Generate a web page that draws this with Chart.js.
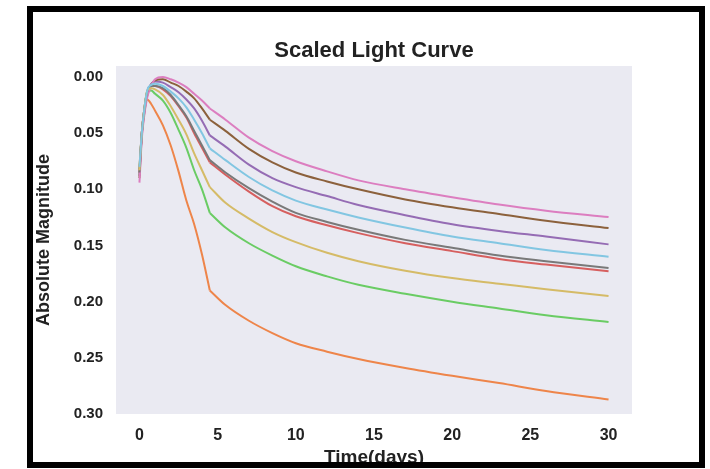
<!DOCTYPE html>
<html>
<head>
<meta charset="utf-8">
<script src="https://cdn.jsdelivr.net/npm/chart.js@4.4.1/dist/chart.umd.min.js"></script>
<style>
    html, body { margin: 0; padding: 0; background: #fff; }
    #wrap { position: relative; width: 710px; height: 469px; }
    #frame {
        position: absolute; left: 27px; top: 6px; width: 678px; height: 462px;
        box-sizing: border-box; border: 6px solid #000; pointer-events: none;
    }
</style>
</head>
<body>
<div id="wrap">
    <canvas id="lightChart" width="710" height="469"></canvas>
    <div id="frame"></div>
</div>
<script>
const days = [0, 0.15, 0.3, 0.5, 0.75, 1, 1.5, 2, 2.5, 3, 3.5, 4, 4.5, 5.5, 7, 8.5, 10, 12, 14, 17, 20, 23, 26, 30];
const kneeDay = 4.5;

const orangeMag = [0.080, 0.050, 0.030, 0.020, 0.024, 0.030, 0.043, 0.061, 0.084, 0.110, 0.131, 0.158, 0.190, 0.203, 0.217, 0.228, 0.237, 0.2445, 0.251, 0.259, 0.266, 0.2725, 0.2795, 0.287];
const greenMag  = [0.082, 0.050, 0.030, 0.013, 0.012, 0.015, 0.021, 0.032, 0.047, 0.063, 0.083, 0.100, 0.121, 0.134, 0.148, 0.159, 0.1685, 0.1775, 0.185, 0.193, 0.200, 0.206, 0.212, 0.218];
const redMag    = [0.085, 0.050, 0.030, 0.013, 0.008, 0.008, 0.011, 0.017, 0.026, 0.036, 0.050, 0.063, 0.076, 0.087, 0.102, 0.115, 0.124, 0.132, 0.139, 0.148, 0.155, 0.162, 0.167, 0.173];
const purpleMag = [0.088, 0.050, 0.032, 0.014, 0.006, 0.004, 0.005, 0.009, 0.0135, 0.020, 0.028, 0.039, 0.052, 0.062, 0.078, 0.090, 0.098, 0.106, 0.114, 0.123, 0.131, 0.137, 0.142, 0.149];
const brownMag  = [0.090, 0.052, 0.033, 0.016, 0.007, 0.003, 0.002, 0.005, 0.008, 0.013, 0.019, 0.028, 0.038, 0.048, 0.064, 0.076, 0.085, 0.093, 0.100, 0.109, 0.116, 0.122, 0.128, 0.1345];
const pinkMag   = [0.094, 0.055, 0.035, 0.018, 0.008, 0.002, 0.000, 0.002, 0.005, 0.009, 0.015, 0.021, 0.028, 0.038, 0.054, 0.066, 0.075, 0.084, 0.092, 0.100, 0.107, 0.1135, 0.119, 0.1247];
const grayMag   = [0.085, 0.050, 0.030, 0.013, 0.008, 0.008, 0.010, 0.016, 0.025, 0.035, 0.048, 0.061, 0.074, 0.085, 0.099, 0.111, 0.121, 0.129, 0.136, 0.145, 0.152, 0.159, 0.164, 0.170];
const oliveMag  = [0.083, 0.050, 0.030, 0.012, 0.010, 0.011, 0.016, 0.026, 0.038, 0.051, 0.068, 0.083, 0.098, 0.112, 0.126, 0.138, 0.147, 0.1565, 0.164, 0.1725, 0.179, 0.184, 0.189, 0.195];
const cyanMag   = [0.080, 0.050, 0.030, 0.012, 0.007, 0.006, 0.008, 0.013, 0.019, 0.027, 0.038, 0.050, 0.0635, 0.074, 0.089, 0.101, 0.110, 0.118, 0.125, 0.134, 0.142, 0.148, 0.154, 0.160];

const seriesList = [orangeMag, greenMag, redMag, purpleMag, brownMag, pinkMag, grayMag, oliveMag, cyanMag];
const seriesColors = ['#ee854a', '#6acc64', '#d65f5f', '#956cb4', '#8c613c', '#dc7ec0', '#797979', '#d5bb67', '#82c6e2'];

const xTicks = [0, 5, 10, 15, 20, 25, 30];
const yTicks = [0.00, 0.05, 0.10, 0.15, 0.20, 0.25, 0.30];

const FONT = '"Liberation Sans", Arial, Helvetica, sans-serif';
const TEXT = '#222';

// seaborn-style lavender plot background
const plotBg = {
    id: 'plotBg',
    beforeDraw(chart) {
        const { ctx, chartArea: a } = chart;
        ctx.save();
        ctx.fillStyle = '#eaeaf2';
        ctx.fillRect(a.left, a.top, a.right - a.left, a.bottom - a.top);
        ctx.restore();
    }
};

// each curve is drawn as rise + decay so the kink at the knee stays sharp
const k = days.indexOf(kneeDay);
const datasets = [];
seriesList.forEach((vals, i) => {
    const pts = days.map((d, j) => ({ x: d, y: vals[j] }));
    [pts.slice(0, k + 1), pts.slice(k)].forEach(part => {
        datasets.push({
            data: part,
            borderColor: seriesColors[i],
            borderWidth: 2,
            pointRadius: 0,
            cubicInterpolationMode: 'monotone',
            fill: false,
            order: seriesList.length - i   // later series on top, like matplotlib
        });
    });
});

new Chart(document.getElementById('lightChart').getContext('2d'), {
    type: 'line',
    data: { datasets },
    options: {
        responsive: false,
        animation: false,
        events: [],
        layout: { padding: { left: 33, top: 12, right: 78, bottom: 0 } },
        plugins: {
            legend: { display: false },
            tooltip: { enabled: false },
            title: {
                display: true,
                fullSize: false,   // centre over the plot area, not the canvas
                text: 'Scaled Light Curve',
                color: TEXT,
                font: { family: FONT, size: 22, weight: 'bold' },
                padding: { top: 26, bottom: 1.6 }
            }
        },
        scales: {
            x: {
                type: 'linear',
                min: -1.5,
                max: 31.5,
                grid: { display: false, drawTicks: false },
                border: { display: false },
                afterBuildTicks: axis => { axis.ticks = xTicks.map(v => ({ value: v })); },
                afterFit: axis => { axis.height = 55; },
                ticks: {
                    color: TEXT,
                    padding: 12,
                    maxRotation: 0,
                    font: { family: FONT, size: 16, weight: 'bold' },
                    callback: v => String(v)
                },
                title: {
                    display: true,
                    text: 'Time(days)',
                    color: TEXT,
                    font: { family: FONT, size: 19, weight: 'bold' },
                    padding: { top: 0, bottom: 0 }
                }
            },
            y: {
                type: 'linear',
                reverse: true,
                min: -0.0098,
                max: 0.30,
                grid: { display: false, drawTicks: false },
                border: { display: false },
                afterBuildTicks: axis => { axis.ticks = yTicks.map(v => ({ value: v })); },
                afterFit: axis => { axis.width = 83; },
                ticks: {
                    color: TEXT,
                    padding: 13,
                    font: { family: FONT, size: 15, weight: 'bold' },
                    callback: v => Number(v).toFixed(2)
                },
                title: {
                    display: true,
                    text: 'Absolute Magnitude',
                    color: TEXT,
                    font: { family: FONT, size: 18, weight: 'bold' },
                    padding: { top: 0, bottom: 0 }
                }
            }
        }
    },
    plugins: [plotBg]
});
</script>
</body>
</html>
